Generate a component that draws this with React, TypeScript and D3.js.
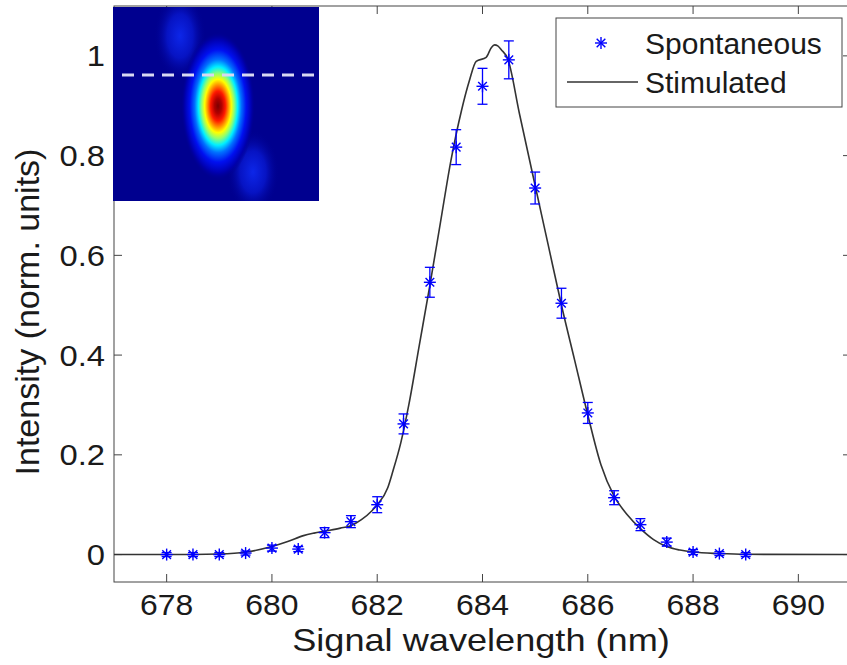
import React from "react";
import * as d3 from "d3";

// Spontaneous emission (points with error bars)
const spontX = [678, 678.5, 679, 679.5, 680, 680.5, 681, 681.5, 682, 682.5, 683, 683.5, 684, 684.5, 685, 685.5, 686, 686.5, 687, 687.5, 688, 688.5, 689];
const spontY = [0.0, 0.0, 0.0, 0.003, 0.013, 0.011, 0.044, 0.066, 0.1, 0.262, 0.546, 0.817, 0.939, 0.992, 0.735, 0.504, 0.284, 0.114, 0.06, 0.025, 0.005, 0.002, 0.0];
const spontErr = [0.004, 0.004, 0.004, 0.004, 0.006, 0.005, 0.01, 0.012, 0.016, 0.02, 0.03, 0.035, 0.036, 0.038, 0.032, 0.03, 0.021, 0.014, 0.012, 0.008, 0.005, 0.004, 0.004];

// Stimulated emission (line)
const stimX = [677, 678, 678.5, 679, 679.5, 680, 680.3, 680.6, 680.8, 681, 681.3, 681.5, 681.7, 681.9, 682, 682.2, 682.3, 682.45, 682.6, 682.8, 683, 683.2, 683.4, 683.6, 683.75, 683.88, 684.07, 684.17, 684.23, 684.29, 684.36, 684.48, 684.7, 685, 685.25, 685.5, 685.75, 686, 686.25, 686.5, 686.75, 687, 687.25, 687.5, 687.75, 688, 688.5, 689, 691];
const stimY = [0, 0, 0, 0.001, 0.005, 0.016, 0.026, 0.038, 0.043, 0.047, 0.053, 0.058, 0.07, 0.088, 0.1, 0.134, 0.168, 0.225, 0.3, 0.42, 0.54, 0.665, 0.79, 0.89, 0.95, 0.989, 0.997, 1.017, 1.022, 1.02, 1.012, 0.994, 0.885, 0.74, 0.62, 0.5, 0.39, 0.28, 0.18, 0.117, 0.08, 0.052, 0.03, 0.016, 0.009, 0.005, 0.002, 0.0005, 0];

const xTicks = [678, 680, 682, 684, 686, 688, 690];
const yTicks = [0, 0.2, 0.4, 0.6, 0.8, 1];
const yTickLabels = ["0", "0.2", "0.4", "0.6", "0.8", "1"];
const legendLabels = ["Spontaneous", "Stimulated"];
const xLabel = "Signal wavelength (nm)";
const yLabel = "Intensity (norm. units)";

const W = 847;
const H = 665;
const L = 114;
const R = 851;
const T = 6;
const B = 582;
const FONT = "'Liberation Sans', Arial, Helvetica, sans-serif";
const BLUE = "#0000ff";

function Star({ x, y, s = 6 }: { x: number; y: number; s?: number }) {
  const d = s * 0.72;
  return (
    <g stroke={BLUE} strokeWidth={1.4}>
      <line x1={x - s} y1={y} x2={x + s} y2={y} />
      <line x1={x} y1={y - s} x2={x} y2={y + s} />
      <line x1={x - d} y1={y - d} x2={x + d} y2={y + d} />
      <line x1={x - d} y1={y + d} x2={x + d} y2={y - d} />
    </g>
  );
}

export default function App() {
  const x = d3.scaleLinear().domain([677, 691]).range([L, R]);
  const y = d3.scaleLinear().domain([-0.055, 1.1]).range([B, T]);
  const stimPts: [number, number][] = stimX.map((v, i) => [v, stimY[i]]);
  const line = d3
    .line<[number, number]>()
    .x((d) => x(d[0]))
    .y((d) => y(d[1]))
    .curve(d3.curveMonotoneX);

  const tick = 8;
  const axisColor = "#444";
  const textColor = "#1a1a1a";

  return (
    <svg width={W} height={H} style={{ position: "fixed", left: 0, top: 0, background: "#fff" }} fontFamily={FONT}>
      <defs>
        <clipPath id="plotClip">
          <rect x={L} y={T} width={R - L} height={B - T} />
        </clipPath>
        <clipPath id="insetClip">
          <rect x={113} y={7} width={206} height={194} />
        </clipPath>
        <radialGradient id="blob" cx="0.5" cy="0.5" r="0.5">
          <stop offset="0" stopColor="#7a0000" />
          <stop offset="0.1" stopColor="#b00000" />
          <stop offset="0.2" stopColor="#ff1800" />
          <stop offset="0.28" stopColor="#ff8c00" />
          <stop offset="0.36" stopColor="#ffff00" />
          <stop offset="0.44" stopColor="#90ff70" />
          <stop offset="0.53" stopColor="#00f0ff" />
          <stop offset="0.63" stopColor="#0070ff" />
          <stop offset="0.76" stopColor="#0010f0" />
          <stop offset="0.9" stopColor="#0000b0" />
          <stop offset="1" stopColor="#00008f" stopOpacity="0" />
        </radialGradient>
        <radialGradient id="faint" cx="0.5" cy="0.5" r="0.5">
          <stop offset="0" stopColor="#1030ff" />
          <stop offset="0.5" stopColor="#0818d0" />
          <stop offset="1" stopColor="#00008f" stopOpacity="0" />
        </radialGradient>
      </defs>

      {/* axes box */}
      <g stroke={axisColor} strokeWidth={1} fill="none">
        <rect x={L} y={T} width={R - L} height={B - T} />
        {xTicks.map((t) => (
          <g key={"xt" + t}>
            <line x1={x(t)} x2={x(t)} y1={B} y2={B - tick} />
            <line x1={x(t)} x2={x(t)} y1={T} y2={T + tick} />
          </g>
        ))}
        {yTicks.map((t) => (
          <g key={"yt" + t}>
            <line x1={L} x2={L + tick} y1={y(t)} y2={y(t)} />
            <line x1={R} x2={R - tick} y1={y(t)} y2={y(t)} />
          </g>
        ))}
      </g>

      {/* tick labels */}
      <g fill={textColor} fontSize={29}>
        {xTicks.map((t) => (
          <text key={"xl" + t} transform={`translate(${x(t)},${615}) scale(1.1,1)`} textAnchor="middle">
            {t}
          </text>
        ))}
        {yTicks.map((t, i) => (
          <text key={"yl" + t} transform={`translate(${105},${y(t)}) scale(1.13,1)`} textAnchor="end" dy="0.36em">
            {yTickLabels[i]}
          </text>
        ))}
      </g>

      {/* axis labels */}
      <text transform={`translate(481,651) scale(1.13,1)`} textAnchor="middle" fontSize={32} fill={textColor}>
        {xLabel}
      </text>
      <text transform={`translate(39,312) rotate(-90)`} textAnchor="middle" fontSize={34} fill={textColor}>
        {yLabel}
      </text>

      {/* data */}
      <g clipPath="url(#plotClip)">
        <path d={line(stimPts) || ""} fill="none" stroke="#333" strokeWidth={1.6} />
        {spontX.map((v, i) => {
          const cx = x(v);
          const y1 = y(spontY[i] + spontErr[i]);
          const y2 = y(spontY[i] - spontErr[i]);
          return (
            <g key={"e" + i} stroke={BLUE} strokeWidth={1.3}>
              <line x1={cx} x2={cx} y1={y1} y2={y2} />
              <line x1={cx - 5} x2={cx + 5} y1={y1} y2={y1} />
              <line x1={cx - 5} x2={cx + 5} y1={y2} y2={y2} />
            </g>
          );
        })}
        {spontX.map((v, i) => (
          <Star key={"s" + i} x={x(v)} y={y(spontY[i])} />
        ))}
      </g>

      {/* inset image */}
      <g clipPath="url(#insetClip)">
        <rect x={113} y={7} width={206} height={194} fill="#00008f" />
        <ellipse cx={180} cy={36} rx={26} ry={44} fill="url(#faint)" opacity={0.8} />
        <ellipse cx={253} cy={172} rx={26} ry={42} fill="url(#faint)" opacity={0.8} />
        <ellipse cx={218} cy={106} rx={37} ry={74} fill="url(#blob)" />
        <line x1={122} x2={314} y1={75} y2={75} stroke="#d8d8f2" strokeWidth={3} strokeDasharray="12 8" />
      </g>

      {/* legend */}
      <g>
        <rect x={556} y={18} width={286} height={89} fill="#fff" stroke={axisColor} strokeWidth={1} />
        <Star x={601} y={43} />
        <text x={645} y={54} fontSize={30} fill={textColor}>
          {legendLabels[0]}
        </text>
        <line x1={567} x2={638} y1={82} y2={82} stroke="#333" strokeWidth={1.6} />
        <text x={645} y={93} fontSize={30} fill={textColor}>
          {legendLabels[1]}
        </text>
      </g>
    </svg>
  );
}
